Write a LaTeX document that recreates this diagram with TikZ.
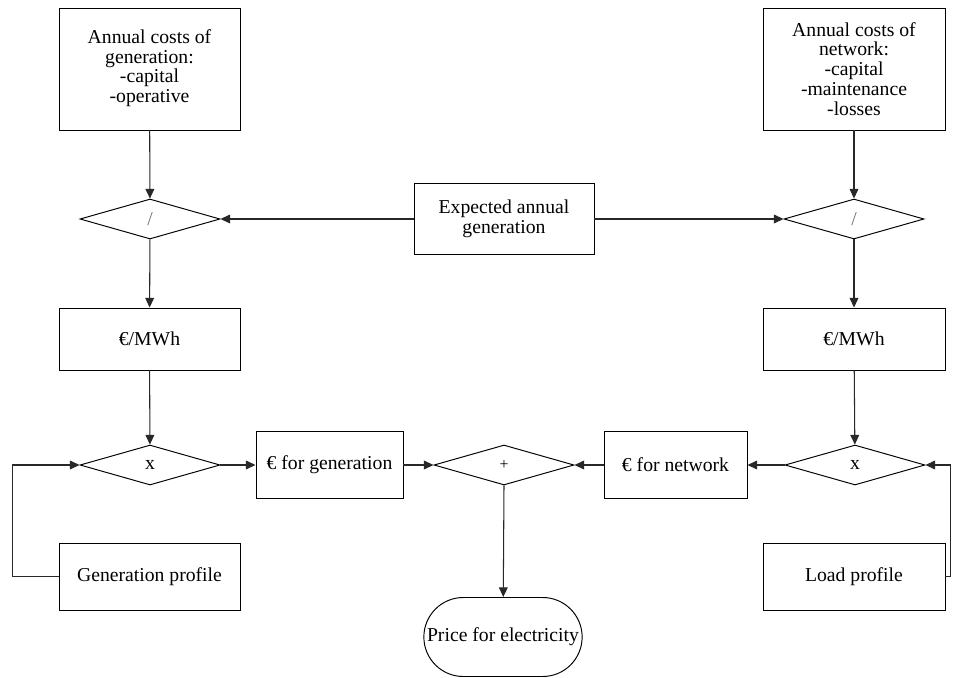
\documentclass[tikz,border=0pt]{standalone}
\usepackage{fontspec}
\setmainfont{Liberation Serif}
\usepackage{tikz}
\usetikzlibrary{shapes.geometric, shapes.misc, arrows.meta, positioning, calc}
\definecolor{LineGray}{RGB}{40,40,40}

\begin{document}
\begin{tikzpicture}[
  block/.style={draw=black, line width=0.55pt, inner sep=1pt,
                font=\fontsize{11.2}{11.3}\selectfont, align=center},
  decision/.style={draw=black, line width=0.55pt, diamond, aspect=3.5,
                   inner sep=0pt, minimum width=2.8cm, minimum height=0.8cm,
                   font=\fontsize{11.2}{11.3}\selectfont},
  term/.style={draw=black, line width=0.55pt, rounded rectangle,
               minimum width=3.4cm, minimum height=1.58cm,
               font=\fontsize{11.2}{11.3}\selectfont, align=center},
  arr/.style={-{Triangle[length=5.5pt, width=5pt]}, line width=0.6pt, LineGray},
]
\useasboundingbox (0,0) rectangle (19.24,-13.56);

% left column: generation
\node[block, minimum width=3.62cm, minimum height=2.44cm] (costgen) at (2.99,-1.38)
  {Annual costs of\\generation:\\-capital\\-operative\\[-8pt]};
\node[decision] (divgen) at (3.0,-4.38) {\color{black!55}/};
\node[block, minimum width=3.62cm, minimum height=1.24cm] (mwhgen) at (2.99,-6.78) {€/MWh};
\node[decision] (mulgen) at (3.0,-9.3) {x};
\node[block, minimum width=3.62cm, minimum height=1.34cm] (genprof) at (2.99,-11.53) {Generation profile};

% right column: network
\node[block, minimum width=3.64cm, minimum height=2.44cm] (costnet) at (17.08,-1.38)
  {Annual costs of\\network:\\-capital\\-maintenance\\-losses};
\node[decision] (divnet) at (17.08,-4.38) {\color{black!55}/};
\node[block, minimum width=3.64cm, minimum height=1.24cm] (mwhnet) at (17.08,-6.78) {€/MWh};
\node[decision] (mulnet) at (17.1,-9.3) {x};
\node[block, minimum width=3.64cm, minimum height=1.34cm] (loadprof) at (17.08,-11.53) {Load profile};

% middle
\node[block, minimum width=3.6cm, minimum height=1.42cm] (expgen) at (10.08,-4.38)
  {Expected annual\\generation};
\node[block, minimum width=2.94cm, minimum height=1.34cm] (eurgen) at (6.59,-9.3) {€ for generation};
\node[decision] (sum) at (10.08,-9.3) {\small +};
\node[block, minimum width=2.86cm, minimum height=1.34cm] (eurnet) at (13.51,-9.3) {€ for network};
\node[term] (price) at (10.06,-12.74) {Price for electricity};

\draw[arr] (costgen) -- (divgen);
\draw[arr] (divgen) -- (mwhgen);
\draw[arr] (mwhgen) -- (mulgen);
\draw[arr] (costnet) -- (divnet);
\draw[arr] (divnet) -- (mwhnet);
\draw[arr] (mwhnet) -- (mulnet);
\draw[arr] (expgen) -- (divgen.east);
\draw[arr] (expgen) -- (divnet.west);
\draw[arr] (mulgen.east) -- (eurgen);
\draw[arr] (eurgen) -- (sum.west);
\draw[arr] (mulnet.west) -- (eurnet);
\draw[arr] (eurnet) -- (sum.east);
\draw[arr] (sum.south) -- (price);
\draw[arr] (genprof.west) -- ++(-0.92,0) |- (mulgen.west);
\draw[arr] (loadprof.east) -- ++(0.1,0) |- (mulnet.east);
\end{tikzpicture}
\end{document}
